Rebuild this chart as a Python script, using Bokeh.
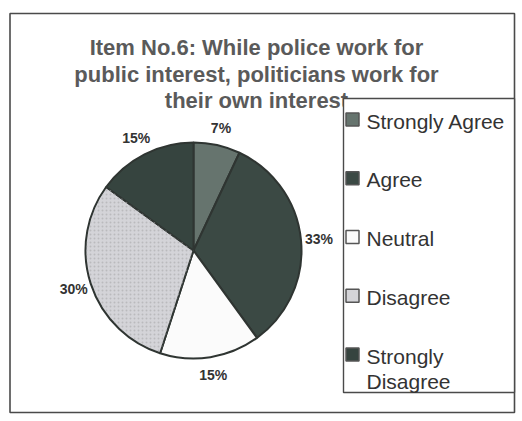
import numpy as np
from bokeh.plotting import figure
from bokeh.models import Range1d, ColumnDataSource
from bokeh.core.properties import value
from bokeh.embed import file_html
from bokeh.resources import INLINE

# ---- data ----
title_lines = ["Item No.6: While police work for",
               "public interest, politicians work for",
               "their own interest"]
categories = ["Strongly Agree", "Agree", "Neutral", "Disagree", "Strongly Disagree"]
percents = [7, 33, 15, 30, 15]
colors = ["#66746e", "#3b4944", "#fbfbfb", "#d4d4d8", "#36443f"]

FONT = "Liberation Sans"

W, H = 518, 417
p = figure(width=W, height=H, output_backend="svg", toolbar_location=None,
           x_range=Range1d(0, W), y_range=Range1d(-H, 0),
           x_axis_type=None, y_axis_type=None, min_border=0,
           background_fill_color="white", border_fill_color="white",
           outline_line_color=None)
p.grid.visible = False

# outer frame
p.quad(left=[9.5], right=[514], top=[-13], bottom=[-412],
       fill_color=None, line_color="#4a4a4a", line_width=1.6)

# title
tb = [47, 74, 100]
p.text(x=[256] * len(title_lines), y=[-b for b in tb], text=title_lines,
       text_font=value(FONT), text_font_style="bold", text_font_size="22px",
       text_color="#5a5a5a", text_align="center", text_baseline="alphabetic")

# pie
cx, cy, r = 193, -250, 108
vals = np.array(percents, dtype=float)
frac = vals / vals.sum()
cum = np.concatenate([[0], np.cumsum(frac)])
start = np.pi / 2 - 2 * np.pi * cum[:-1]
end = np.pi / 2 - 2 * np.pi * cum[1:]
src = ColumnDataSource(dict(start=start, end=end, color=colors, cat=categories))
p.wedge(x=cx, y=cy, radius=r, start_angle="start", end_angle="end",
        direction="clock", fill_color="color", line_color="#2f3532",
        line_width=2, source=src)
# texture on Disagree
d = categories.index("Disagree")
p.wedge(x=cx, y=cy, radius=r - 1, start_angle=start[d], end_angle=end[d],
        direction="clock", fill_color=None, line_color=None,
        hatch_pattern="dot", hatch_color="#a8a8ac", hatch_scale=4, hatch_alpha=0.6)

# labels
mid = (start + end) / 2
lr = 126
p.text(x=cx + lr * np.cos(mid), y=cy + lr * np.sin(mid),
       text=[f"{v}%" for v in percents],
       text_font=value(FONT), text_font_style="bold", text_font_size="14px",
       text_color="#333333", text_align="center", text_baseline="middle")

# legend box
p.quad(left=[343], right=[514], top=[-98], bottom=[-392],
       fill_color="white", line_color="#4a4a4a", line_width=1.4)
cap_top0, step = 112, 58.75
n = len(categories)
caps = [cap_top0 + i * step for i in range(n)]
leg_labels = [c.replace("Strongly Disagree", "Strongly\nDisagree") for c in categories]
p.rect(x=[352] * n, y=[-(c + 7) for c in caps], width=13, height=13,
       fill_color=colors, line_color="#555555", line_width=1.5)
p.text(x=[366] * n, y=[-(c - 3) for c in caps], text=leg_labels,
       text_font=value(FONT), text_font_size="21px", text_color="#333333",
       text_align="left", text_baseline="top", text_line_height=1.1)

open("out.html", "w").write(file_html(p, INLINE))
